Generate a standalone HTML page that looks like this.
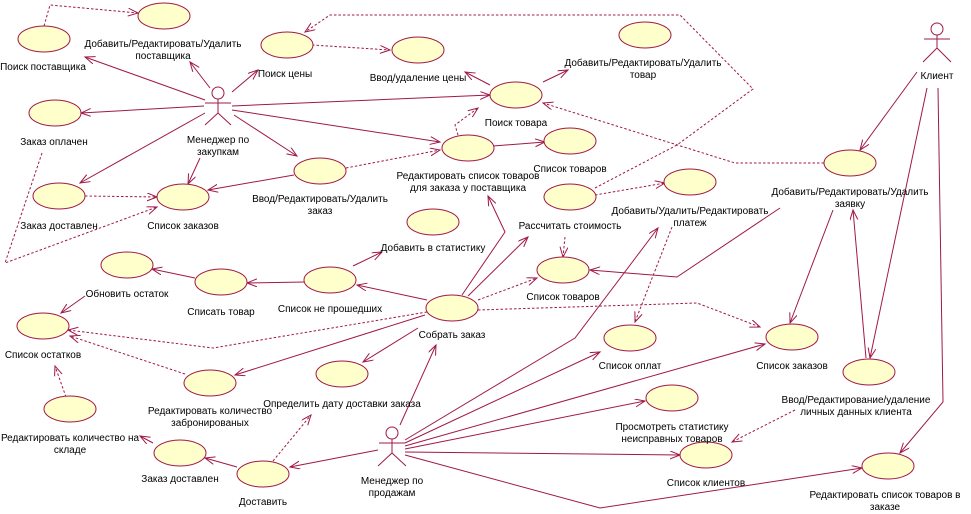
<!DOCTYPE html>
<html><head><meta charset="utf-8"><style>
html,body{margin:0;padding:0;background:#fff;}
svg{display:block;}
text{font-family:"Liberation Sans",Arial,sans-serif;font-size:10px;fill:#000;text-anchor:middle;}
.e{fill:#ffffcc;stroke:#a01848;stroke-width:1;}
.l{fill:none;stroke:#a01848;stroke-width:1;}
.d{fill:none;stroke:#a01848;stroke-width:1;stroke-dasharray:2.5,2;}
</style></head><body>
<svg width="971" height="514" viewBox="0 0 971 514" xmlns="http://www.w3.org/2000/svg">
<defs>
<marker id="a" markerWidth="12" markerHeight="10" refX="10" refY="4" orient="auto" markerUnits="userSpaceOnUse">
<path d="M0,0 L10,4 L0,8" fill="none" stroke="#a01848" stroke-width="1"/>
</marker>
</defs>

<g class="l" marker-end="url(#a)">
<line x1="205" y1="100" x2="85" y2="57"/>
<line x1="210" y1="88" x2="190" y2="62"/>
<line x1="232" y1="92" x2="258" y2="70"/>
<line x1="204" y1="106" x2="81" y2="113"/>
<line x1="205" y1="113" x2="80" y2="183"/>
<line x1="200" y1="158" x2="188" y2="184"/>
<line x1="234" y1="115" x2="297" y2="156"/>
<line x1="232" y1="106" x2="490" y2="95"/>
<line x1="232" y1="110" x2="440" y2="142"/>
<line x1="294" y1="175" x2="208" y2="190"/>
<line x1="490" y1="85" x2="465" y2="72"/>
<line x1="543" y1="82" x2="568" y2="70"/>
<line x1="493" y1="146" x2="545" y2="142"/>
<line x1="917" y1="72" x2="860" y2="150"/>
<line x1="833" y1="210" x2="790" y2="323"/>
<line x1="927" y1="88" x2="870" y2="358"/>
<line x1="866" y1="358" x2="853" y2="210"/>
<polyline points="938,88 943,402 900,453"/>
<polyline points="780,208 677,277 590,270"/>
<line x1="427" y1="300" x2="357" y2="285"/>
<line x1="353" y1="266" x2="382" y2="252"/>
<line x1="305" y1="282" x2="247" y2="283"/>
<line x1="195" y1="278" x2="152" y2="269"/>
<line x1="85" y1="296" x2="61" y2="313"/>
<line x1="425" y1="315" x2="235" y2="375"/>
<line x1="418" y1="328" x2="363" y2="362"/>
<polyline points="462,295 505,232 488,196"/>
<line x1="468" y1="296" x2="528" y2="237"/>
<line x1="400" y1="425" x2="436" y2="345"/>
<line x1="378" y1="450" x2="290" y2="467"/>
<line x1="153" y1="443" x2="140" y2="436"/>
<line x1="237" y1="467" x2="205" y2="458"/>
<polyline points="405,440 575,338 658,228"/>
<line x1="405" y1="443" x2="600" y2="352"/>
<line x1="405" y1="446" x2="765" y2="344"/>
<line x1="405" y1="449" x2="645" y2="401"/>
<line x1="405" y1="452" x2="680" y2="455"/>
<polyline points="405,455 600,508 862,468"/>
</g>

<g class="d" marker-end="url(#a)">
<polyline points="44,26 50,5 138,13"/>
<line x1="312" y1="45" x2="390" y2="50"/>
<line x1="346" y1="168" x2="440" y2="150"/>
<line x1="85" y1="196" x2="157" y2="197"/>
<polyline points="42,153 5,263 157,207"/>
<polyline points="458,135 455,125 478,108"/>
<polyline points="595,188 677,145 753,89 680,15 330,15 305,32"/>
<polyline points="824,163 735,163 543,103"/>
<line x1="595" y1="195" x2="665" y2="183"/>
<line x1="565" y1="237" x2="563" y2="257"/>
<line x1="672" y1="227" x2="635" y2="322"/>
<line x1="478" y1="300" x2="537" y2="278"/>
<polyline points="478,310 697,303 760,327"/>
<polyline points="427,312 213,348 68,330"/>
<line x1="185" y1="374" x2="70" y2="336"/>
<line x1="66" y1="397" x2="55" y2="366"/>
<line x1="273" y1="461" x2="311" y2="415"/>
<line x1="795" y1="410" x2="732" y2="442"/>
</g>

<g class="e">
<ellipse cx="44" cy="39" rx="26" ry="13"/>
<ellipse cx="164" cy="16" rx="26" ry="13"/>
<ellipse cx="287" cy="45" rx="26" ry="13"/>
<ellipse cx="418" cy="50" rx="26" ry="13"/>
<ellipse cx="55" cy="113" rx="26" ry="13"/>
<ellipse cx="59" cy="196" rx="26" ry="13"/>
<ellipse cx="183" cy="197" rx="26" ry="13"/>
<ellipse cx="320" cy="171" rx="26" ry="13"/>
<ellipse cx="468" cy="148" rx="26" ry="13"/>
<ellipse cx="516" cy="95" rx="26" ry="13"/>
<ellipse cx="645" cy="35" rx="26" ry="13"/>
<ellipse cx="570" cy="141" rx="26" ry="13"/>
<ellipse cx="570" cy="197" rx="26" ry="13"/>
<ellipse cx="690" cy="182" rx="26" ry="13"/>
<ellipse cx="433" cy="222" rx="26" ry="13"/>
<ellipse cx="850" cy="163" rx="26" ry="13"/>
<ellipse cx="127" cy="265" rx="26" ry="13"/>
<ellipse cx="221" cy="282" rx="26" ry="13"/>
<ellipse cx="330" cy="280" rx="26" ry="13"/>
<ellipse cx="452" cy="308" rx="26" ry="13"/>
<ellipse cx="43" cy="326" rx="26" ry="13"/>
<ellipse cx="210" cy="383" rx="26" ry="13"/>
<ellipse cx="342" cy="374" rx="26" ry="13"/>
<ellipse cx="70" cy="409" rx="26" ry="13"/>
<ellipse cx="180" cy="453" rx="26" ry="13"/>
<ellipse cx="263" cy="474" rx="26" ry="13"/>
<ellipse cx="563" cy="270" rx="26" ry="13"/>
<ellipse cx="630" cy="338" rx="26" ry="13"/>
<ellipse cx="792" cy="337" rx="26" ry="13"/>
<ellipse cx="869" cy="372" rx="26" ry="13"/>
<ellipse cx="672" cy="398" rx="26" ry="13"/>
<ellipse cx="706" cy="455" rx="26" ry="13"/>
<ellipse cx="888" cy="466" rx="26" ry="13"/>
</g>

<g class="l" style="fill:#fff">
<circle cx="218" cy="93" r="6"/>
<circle cx="937" cy="29" r="6"/>
<circle cx="392" cy="433" r="6"/>
</g>
<g class="l">
<path d="M218,99 V113 M205,103 H231 M218,113 L205,125 M218,113 L231,125"/>
<path d="M937,35 V48 M924,39 H950 M937,48 L923,62 M937,48 L951,62"/>
<path d="M392,439 V453 M379,443 H405 M392,453 L378,466 M392,453 L406,466"/>
</g>

<text x="43" y="70">Поиск поставщика</text>
<text x="163" y="47">Добавить/Редактировать/Удалить</text>
<text x="163" y="59">поставщика</text>
<text x="285" y="77">Поиск цены</text>
<text x="418" y="81">Ввод/удаление цены</text>
<text x="54" y="145">Заказ оплачен</text>
<text x="218" y="143">Менеджер по</text>
<text x="218" y="155">закупкам</text>
<text x="59" y="229">Заказ доставлен</text>
<text x="183" y="229">Список заказов</text>
<text x="320" y="202">Ввод/Редактировать/Удалить</text>
<text x="320" y="214">заказ</text>
<text x="468" y="179">Редактировать список товаров</text>
<text x="468" y="191">для заказа у поставщика</text>
<text x="516" y="126">Поиск товара</text>
<text x="643" y="66">Добавить/Редактировать/Удалить</text>
<text x="643" y="78">товар</text>
<text x="570" y="172">Список товаров</text>
<text x="570" y="229">Рассчитать стоимость</text>
<text x="690" y="214">Добавить/Удалить/Редактировать</text>
<text x="690" y="226">платеж</text>
<text x="433" y="251">Добавить в статистику</text>
<text x="937" y="79">Клиент</text>
<text x="850" y="195">Добавить/Редактировать/Удалить</text>
<text x="850" y="207">заявку</text>
<text x="127" y="297">Обновить остаток</text>
<text x="221" y="315">Списать товар</text>
<text x="330" y="312">Список не прошедших</text>
<text x="452" y="338">Собрать заказ</text>
<text x="43" y="358">Список остатков</text>
<text x="210" y="414">Редактировать количество</text>
<text x="210" y="426">забронированых</text>
<text x="342" y="407">Определить дату доставки заказа</text>
<text x="70" y="441">Редактировать количество на</text>
<text x="70" y="453">складе</text>
<text x="180" y="482">Заказ доставлен</text>
<text x="263" y="505">Доставить</text>
<text x="392" y="484">Менеджер по</text>
<text x="392" y="496">продажам</text>
<text x="563" y="300">Список товаров</text>
<text x="630" y="369">Список оплат</text>
<text x="792" y="369">Список заказов</text>
<text x="856" y="403">Ввод/Редактирование/удаление</text>
<text x="856" y="415">личных данных клиента</text>
<text x="672" y="430">Просмотреть статистику</text>
<text x="672" y="442">неисправных товаров</text>
<text x="706" y="486">Список клиентов</text>
<text x="885" y="498">Редактировать список товаров в</text>
<text x="885" y="510">заказе</text>
</svg>
</body></html>
